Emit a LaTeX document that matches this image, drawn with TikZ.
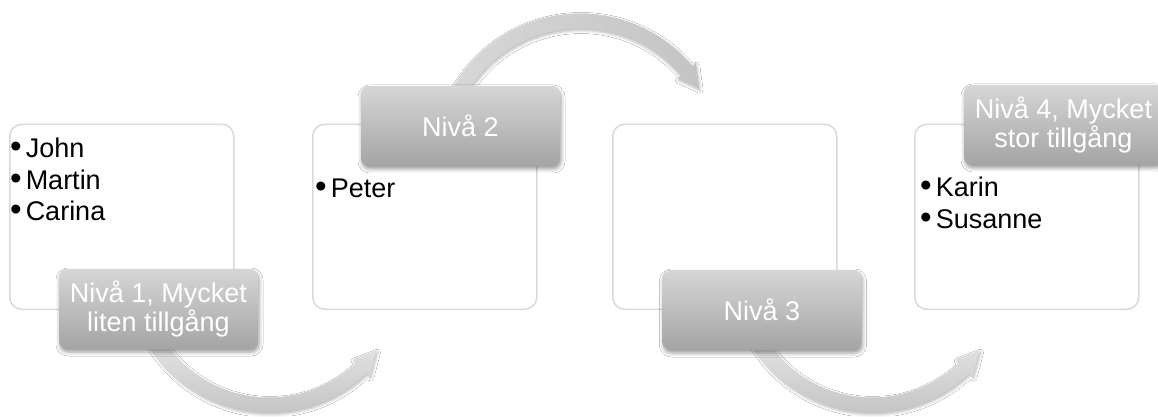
\documentclass[tikz,border=0pt]{standalone}
\usepackage{fontspec}
\setmainfont{Liberation Sans}
\usetikzlibrary{shadows.blur}
\definecolor{boxline}{RGB}{217,217,217}
\definecolor{labtop}{RGB}{214,214,214}
\definecolor{labbot}{RGB}{164,164,164}
\definecolor{arrlight}{RGB}{234,234,234}
\definecolor{arrdark}{RGB}{196,196,196}
\newcommand{\bul}{{\fontsize{33}{31}\selectfont•}\hspace{4pt}}
\begin{document}
\begin{tikzpicture}[x=1pt,y=1pt,
  listbox/.style={draw=boxline, line width=1.5pt, fill=white, rounded corners=12pt,
    minimum width=224pt, minimum height=185pt, inner sep=0pt, anchor=south west},
  levellabel/.style={rounded corners=8pt, top color=labtop, bottom color=labbot,
    text=white, align=center, minimum width=199pt, minimum height=80pt, inner sep=0pt,
    font=\fontsize{27}{25.5}\selectfont,
    blur shadow={shadow xshift=1pt, shadow yshift=-3pt, shadow opacity=40, shadow blur radius=4pt}},
  listitem/.style={anchor=base west, inner sep=0pt, font=\fontsize{27}{31}\selectfont},
  arrowshape/.style={blur shadow={shadow xshift=1pt, shadow yshift=-2pt, shadow opacity=28, shadow blur radius=3pt}}
]
\useasboundingbox (0,0) rectangle (1158,416);
\fill[white] (0,0) rectangle (1158,416);

% white list boxes
\node[listbox] (box1) at (9,106) {};
\node[listbox] (box2) at (312,106) {};
\node[listbox] (box3) at (612,106) {};
\node[listbox] (box4) at (914,106) {};

% list items
\node[listitem] (i1a) at (10,259) {\bul John};
\node[listitem] (i1b) at (10,227) {\bul Martin};
\node[listitem] (i1c) at (10,196) {\bul Carina};
\node[listitem] (i2a) at (315,219) {\bul Peter};
\node[listitem] (i4a) at (920,220) {\bul Karin};
\node[listitem] (i4b) at (920,188) {\bul Susanne};

% curved arrows
\begin{scope}[shift={(269,144)}]
  \path[arrowshape, top color=arrlight, bottom color=arrdark]
    (205:140.5) arc[start angle=205, end angle=314, radius=140.5]
    -- (314:145) -- (324:133) -- (314:121) -- (314:125.5)
    arc[start angle=314, end angle=205, radius=125.5] -- cycle;
\end{scope}
\begin{scope}[shift={(580,256)}]
  \path[arrowshape, left color=arrlight!92!black, right color=arrdark]
    (155:146.5) arc[start angle=155, end angle=40, radius=146.5]
    -- (40:151) -- (31:139) -- (40:127) -- (40:131.5)
    arc[start angle=40, end angle=155, radius=131.5] -- cycle;
\end{scope}
\begin{scope}[shift={(872,144)}]
  \path[arrowshape, top color=arrlight, bottom color=arrdark]
    (205:140.5) arc[start angle=205, end angle=314, radius=140.5]
    -- (314:145) -- (324:133) -- (314:121) -- (314:125.5)
    arc[start angle=314, end angle=205, radius=125.5] -- cycle;
\end{scope}

% gray level labels
\node[levellabel] (lab1) at (158.5,107) {Nivå 1, Mycket\\liten tillgång};
\node[levellabel] (lab2) at (460.5,290) {Nivå 2};
\node[levellabel] (lab3) at (762,106) {Nivå 3};
\node[levellabel] (lab4) at (1063.5,291) {Nivå 4, Mycket\\stor tillgång};
\end{tikzpicture}
\end{document}
